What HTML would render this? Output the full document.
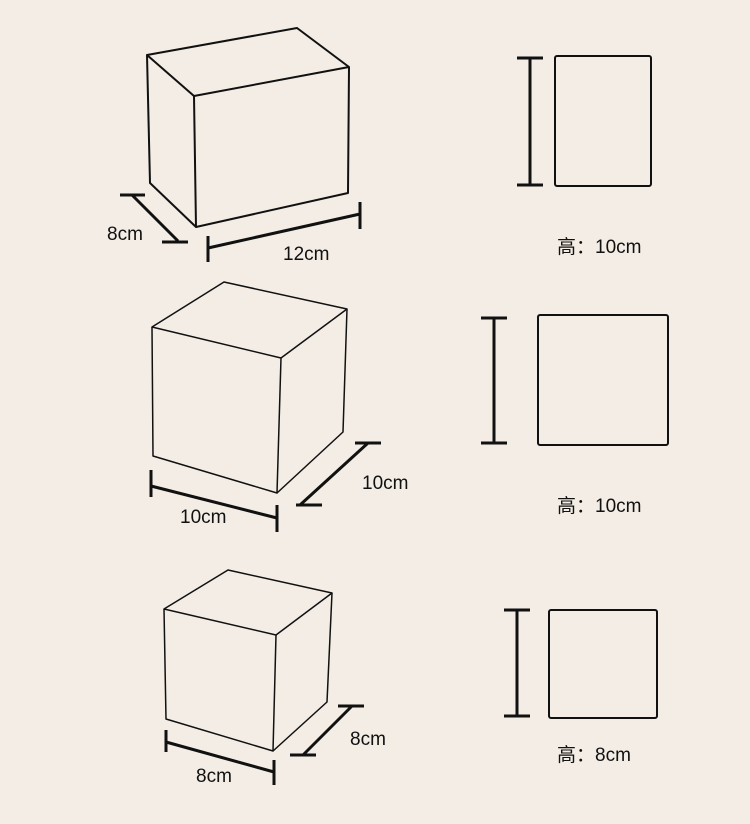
<!DOCTYPE html>
<html><head><meta charset="utf-8"><style>
html,body{margin:0;padding:0;background:#f3ede5;}
svg{display:block}
text{font-family:"Liberation Sans","Noto Sans CJK SC",sans-serif;font-size:19px;fill:#111}
</style></head><body>
<svg width="750" height="824" viewBox="0 0 750 824" xmlns="http://www.w3.org/2000/svg">
<rect width="750" height="824" fill="#f3ede5"/>
<g fill="none" stroke="#111" stroke-linejoin="round">
<!-- box 1 -->
<g stroke-width="2">
<path d="M147,55 L297,28 L349,67 L194,96 Z"/>
<path d="M147,55 L150,183 L196,227 L194,96"/>
<path d="M196,227 L348,193 L349,67"/>
</g>
<g stroke-width="3">
<path d="M120,195 H145 M132,195 L178,241 M162,242 H188"/>
<path d="M208,248 L360,214 M208,236 V262 M360,202 V229"/>
</g>
<!-- cube 2 -->
<g stroke-width="1.5">
<path d="M152,327 L224,282 L347,309 L281,358 Z"/>
<path d="M152,327 L153,456 L277,493 L281,358"/>
<path d="M277,493 L343,432 L347,309"/>
</g>
<g stroke-width="3">
<path d="M151,486 L277,518 M151,470 V497 M277,505 V532"/>
<path d="M300,505 L368,443 M355,443 H381 M296,505 H322"/>
</g>
<!-- cube 3 -->
<g stroke-width="1.5">
<path d="M164,609 L228,570 L332,593 L276,635 Z"/>
<path d="M164,609 L166,719 L273,751 L276,635"/>
<path d="M273,751 L327,702 L332,593"/>
</g>
<g stroke-width="3">
<path d="M166,742 L274,772 M166,730 V752 M274,760 V785"/>
<path d="M303,755 L352,706 M338,706 H364 M290,755 H316"/>
</g>
<!-- right side -->
<g stroke-width="3">
<path d="M530,58 V185 M517,58 H543 M517,185 H543"/>
<path d="M494,318 V443 M481,318 H507 M481,443 H507"/>
<path d="M517,610 V716 M504,610 H530 M504,716 H530"/>
</g>
<g stroke-width="2">
<rect x="555" y="56" width="96" height="130" rx="2"/>
<rect x="538" y="315" width="130" height="130" rx="2"/>
<rect x="549" y="610" width="108" height="108" rx="2"/>
</g>
</g>
<text x="107" y="240">8cm</text>
<text x="283" y="260">12cm</text>
<text x="180" y="523">10cm</text>
<text x="362" y="489">10cm</text>
<text x="196" y="782">8cm</text>
<text x="350" y="745">8cm</text>
<text x="557" y="253">高：10cm</text>
<text x="557" y="512">高：10cm</text>
<text x="557" y="761">高：8cm</text>
</svg>
</body></html>
